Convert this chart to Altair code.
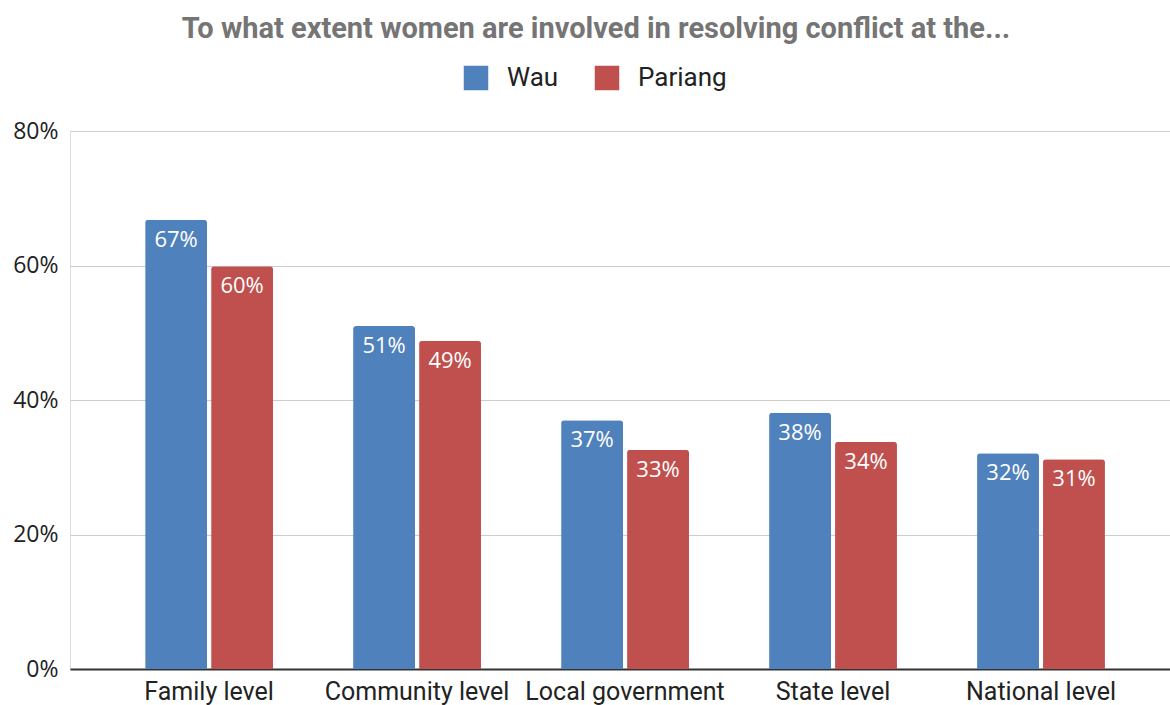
import altair as alt
import pandas as pd

categories = ["Family level", "Community level", "Local government", "State level", "National level"]
series = ["Wau", "Pariang"]
wau = [0.668, 0.510, 0.370, 0.381, 0.321]
pariang = [0.599, 0.488, 0.326, 0.338, 0.312]
colors = ["#4f81bd", "#c0504d"]

rows = []
for c, w, p in zip(categories, wau, pariang):
    rows.append({"category": c, "series": "Wau", "value": w})
    rows.append({"category": c, "series": "Pariang", "value": p})
df = pd.DataFrame(rows)

FONT = "Roboto"
FONT2 = "Open Sans"

x = alt.X("category:N", sort=categories, title=None,
          scale=alt.Scale(paddingInner=0.385, paddingOuter=0.337, align=0.536),
          axis=alt.Axis(labelAngle=0, labelFontSize=25, labelColor="#222222", labelFont=FONT,
                        labelPadding=10, labelLimit=0, ticks=False, domainColor="#333333",
                        domainWidth=2, grid=False))
xo = alt.XOffset("series:N", sort=series, scale=alt.Scale(domain=series, paddingInner=0.061))
y = alt.Y("value:Q", title=None,
          scale=alt.Scale(domain=[0, 0.8], nice=False),
          axis=alt.Axis(format=".0%", values=[0, 0.2, 0.4, 0.6, 0.8], labelFontSize=23,
                        labelColor="#222222", labelFont=FONT2, labelPadding=12, ticks=False,
                        domain=False, gridColor="#cccccc", gridWidth=1))

bars = alt.Chart(df).mark_bar(cornerRadiusTopLeft=3, cornerRadiusTopRight=3).encode(
    x=x, xOffset=xo, y=y,
    color=alt.Color("series:N", sort=series,
                    scale=alt.Scale(domain=series, range=colors),
                    legend=alt.Legend(orient="none", legendX=393, legendY=-66, direction="horizontal",
                                      title=None, symbolType="square", symbolSize=600,
                                      symbolStrokeWidth=0, symbolOpacity=1,
                                      labelFontSize=26, labelFont=FONT, labelColor="#222222",
                                      labelOffset=18, columnPadding=35)),
)

labels = alt.Chart(df).mark_text(color="white", fontSize=22, font=FONT2, baseline="top", dy=10).encode(
    x=x, xOffset=xo, y=y,
    text=alt.Text("value:Q", format=".0%"),
)

chart = alt.layer(bars, labels).properties(
    width=1100, height=538,
    autosize=alt.AutoSizeParams(type="none"),
    padding={"left": 70, "top": 131, "right": 0, "bottom": 36},
    title=alt.TitleParams(
        "To what extent women are involved in resolving conflict at the...",
        font=FONT, fontSize=29, fontWeight="bold", color="#757575",
        anchor="middle", dx=-24, offset=21,
    ),
).configure_view(stroke=None).configure(background="white")

chart.save("out.html", embed_options={"renderer": "svg", "actions": False})
